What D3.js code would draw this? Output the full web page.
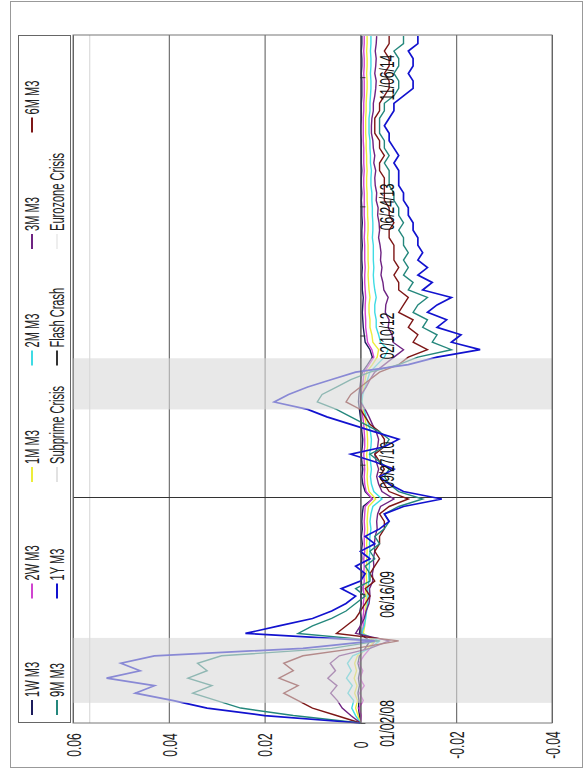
<!DOCTYPE html>
<html>
<head>
<meta charset="utf-8">
<script src="https://cdn.jsdelivr.net/npm/d3@7"></script>
<style>
body { margin: 0; background: #fff; }
svg { display: block; }
</style>
</head>
<body>
<svg id="chart" width="584" height="772"></svg>
<script>
// one observation every 20 trading days, starting 01/02/08
const step = 20
const lastIdx = 1843
const dateLabels = ["01/02/08", "06/16/09", "09/27/10", "02/10/12", "06/24/13", "11/06/14"]
const dateTickIdx = [0, 346, 692, 1038, 1384, 1730]
const valueTicks = [0.06, 0.04, 0.02, 0, -0.02, -0.04]
const valueLabels = ["0.06", "0.04", "0.02", "0", "-0.02", "-0.04"]
const subprime = [54, 228]
const eurozone = [840, 977]
const flashCrash = 604
const crisisLevel = 0.0565

const w1 = [0, 0.0002, 0.0004, 0.0003, 0.0005, 0.0002, 0.0004, 0.0001, 0.0005, 0.0002,
    -0.001, -0.002, 0.0002, 0, -0.0002, 0.0001, -0.0002, -0.0001, -0.0003, -0.0002,
    -0.0003, -0.0001, -0.0003, -0.0002, -0.0004, -0.0002, -0.0004, -0.0003, -0.0004, -0.0006,
    -0.0025, -0.001, -0.0005, -0.0003, -0.0005, -0.0003, -0.0002, -0.0004, -0.0005, -0.0003,
    -0.0002, 0, 0.0002, 0.0004, 0.0003, 0.0001, -0.0001, -0.0004, -0.0015, -0.0025,
    -0.002, -0.001, -0.0008, -0.0006, -0.0005, -0.0004, -0.0005, -0.0006, -0.0004, -0.0004,
    -0.0003, -0.0004, -0.0003, -0.0003, -0.0004, -0.0003, -0.0003, -0.0004, -0.0003, -0.0003,
    -0.0002, -0.0003, -0.0002, -0.0002, -0.0003, -0.0002, -0.0002, -0.0002, -0.0002, -0.0001,
    -0.0001, -0.0002, -0.0002, -0.0002, -0.0003, -0.0003, -0.0003, -0.0002, -0.0003, -0.0003,
    -0.0002, -0.0003, -0.0003]
const w2 = [0, -0.0002, 0.0003, -0.0006, 0.0002, -0.0008, 0.0001, -0.0005, 0.0003, -0.0007,
    -0.002, -0.003, -0.0004, -0.0006, -0.0005, -0.0007, -0.0006, -0.0008, -0.0006, -0.0008,
    -0.0007, -0.0008, -0.0007, -0.0009, -0.0008, -0.0008, -0.0009, -0.0008, -0.0009, -0.001,
    -0.0025, -0.0012, -0.0009, -0.0008, -0.0009, -0.0008, -0.0007, -0.0009, -0.0009, -0.0008,
    -0.0007, -0.0005, -0.0003, 0, -0.0002, -0.0004, -0.0006, -0.0008, -0.0018, -0.0028,
    -0.0024, -0.0015, -0.0013, -0.0011, -0.0011, -0.001, -0.001, -0.0011, -0.001, -0.0009,
    -0.0009, -0.001, -0.0009, -0.0009, -0.0009, -0.0008, -0.0009, -0.0009, -0.0008, -0.0008,
    -0.0008, -0.0008, -0.0007, -0.0007, -0.0008, -0.0007, -0.0007, -0.0007, -0.0006, -0.0006,
    -0.0006, -0.0006, -0.0007, -0.0007, -0.0008, -0.0008, -0.0008, -0.0007, -0.0008, -0.0008,
    -0.0007, -0.0008, -0.0008]
const m1 = [0, 0.0005, 0.001, 0.0006, 0.0012, 0.0007, 0.0013, 0.0008, 0.0012, 0.0006,
    -0.0015, -0.003, -0.0006, -0.0009, -0.001, -0.0011, -0.0012, -0.0012, -0.0011, -0.0013,
    -0.0012, -0.0013, -0.0013, -0.0014, -0.0013, -0.0014, -0.0015, -0.0014, -0.0015, -0.0017,
    -0.0032, -0.0018, -0.0015, -0.0014, -0.0015, -0.0014, -0.0013, -0.0015, -0.0015, -0.0014,
    -0.0012, -0.0009, -0.0006, -0.0003, -0.0004, -0.0007, -0.001, -0.0013, -0.0025, -0.0035,
    -0.0038, -0.0026, -0.0024, -0.002, -0.002, -0.0018, -0.0018, -0.002, -0.0018, -0.0017,
    -0.0016, -0.0017, -0.0016, -0.0016, -0.0016, -0.0015, -0.0016, -0.0016, -0.0015, -0.0015,
    -0.0014, -0.0014, -0.0013, -0.0013, -0.0014, -0.0013, -0.0013, -0.0012, -0.0012, -0.0011,
    -0.0011, -0.0011, -0.0012, -0.0012, -0.0013, -0.0014, -0.0014, -0.0013, -0.0014, -0.0014,
    -0.0013, -0.0014, -0.0014]
const m2 = [0, 0.001, 0.0018, 0.0014, 0.0026, 0.0017, 0.0029, 0.0019, 0.0027, 0.0016,
    -0.002, -0.004, -0.0002, -0.0008, -0.0011, -0.0013, -0.0015, -0.0016, -0.0015, -0.0018,
    -0.0017, -0.0019, -0.0018, -0.002, -0.0019, -0.002, -0.0022, -0.002, -0.0022, -0.0026,
    -0.0045, -0.0028, -0.0023, -0.0021, -0.0023, -0.0021, -0.0019, -0.0022, -0.0023, -0.0021,
    -0.0017, -0.0012, -0.0008, -0.0003, -0.0005, -0.001, -0.0015, -0.002, -0.0035, -0.005,
    -0.0058, -0.0042, -0.0038, -0.0033, -0.0033, -0.003, -0.003, -0.0033, -0.003, -0.0028,
    -0.0027, -0.0028, -0.0027, -0.0027, -0.0027, -0.0025, -0.0026, -0.0026, -0.0025, -0.0025,
    -0.0024, -0.0024, -0.0022, -0.0022, -0.0023, -0.0021, -0.0021, -0.002, -0.002, -0.0018,
    -0.0018, -0.0018, -0.002, -0.002, -0.0021, -0.0022, -0.0022, -0.0021, -0.0022, -0.0022,
    -0.0021, -0.0022, -0.0022]
const m3 = [0, 0.002, 0.0038, 0.0048, 0.0062, 0.0049, 0.0068, 0.0052, 0.0063, 0.0044,
    -0.002, -0.006, 0.001, 0, -0.0008, -0.0012, -0.0018, -0.002, -0.0019, -0.0026,
    -0.0025, -0.0028, -0.0027, -0.003, -0.0029, -0.0031, -0.0035, -0.0034, -0.0036, -0.0042,
    -0.007, -0.0045, -0.0038, -0.0034, -0.0038, -0.0033, -0.003, -0.0036, -0.0038, -0.0033,
    -0.0025, -0.0018, -0.001, 0, -0.0002, -0.0012, -0.002, -0.003, -0.005, -0.007,
    -0.009, -0.0068, -0.0066, -0.0058, -0.006, -0.0052, -0.0053, -0.0058, -0.0049, -0.0047,
    -0.0043, -0.0045, -0.0042, -0.0043, -0.0041, -0.0038, -0.004, -0.0039, -0.0036, -0.0037,
    -0.0033, -0.0034, -0.0031, -0.003, -0.0032, -0.0028, -0.003, -0.0027, -0.0026, -0.0023,
    -0.0023, -0.0024, -0.0027, -0.0027, -0.003, -0.0032, -0.0033, -0.003, -0.0032, -0.0033,
    -0.0031, -0.0033, -0.0034]
const m6 = [0, 0.005, 0.010, 0.013, 0.016, 0.013, 0.017, 0.014, 0.016, 0.012,
    0.001, -0.008, 0.005, 0.003, 0.001, 0.000, -0.001, -0.002, -0.001, -0.003,
    -0.002, -0.003, -0.004, -0.003, -0.004, -0.004, -0.005, -0.005, -0.004, -0.006,
    -0.010, -0.006, -0.005, -0.004, -0.005, -0.004, -0.003, -0.005, -0.005, -0.004,
    -0.002, -0.001, 0.000, 0.003, 0.002, 0.000, -0.002, -0.004, -0.008, -0.010,
    -0.014, -0.011, -0.012, -0.010, -0.011, -0.008, -0.009, -0.010, -0.008, -0.008,
    -0.007, -0.008, -0.007, -0.007, -0.007, -0.006, -0.006, -0.007, -0.006, -0.006,
    -0.005, -0.005, -0.005, -0.005, -0.004, -0.004, -0.005, -0.004, -0.004, -0.003,
    -0.003, -0.003, -0.004, -0.004, -0.005, -0.006, -0.006, -0.005, -0.006, -0.006,
    -0.005, -0.006, -0.006]
const m9 = [0, 0.014, 0.025, 0.030, 0.035, 0.031, 0.036, 0.032, 0.034, 0.029,
    0.006, -0.004, 0.013, 0.010, 0.006, 0.003, 0.001, -0.001, 0.001, -0.002,
    -0.002, -0.001, -0.003, -0.002, -0.004, -0.003, -0.005, -0.006, -0.005, -0.008,
    -0.013, -0.008, -0.006, -0.005, -0.006, -0.004, -0.002, -0.005, -0.006, -0.004,
    -0.001, 0.002, 0.005, 0.009, 0.008, 0.005, 0.002, -0.002, -0.008, -0.012,
    -0.019, -0.015, -0.016, -0.013, -0.014, -0.011, -0.012, -0.014, -0.010, -0.011,
    -0.009, -0.010, -0.009, -0.010, -0.009, -0.009, -0.008, -0.009, -0.008, -0.008,
    -0.007, -0.007, -0.006, -0.006, -0.006, -0.005, -0.006, -0.005, -0.005, -0.004,
    -0.004, -0.004, -0.005, -0.005, -0.007, -0.008, -0.008, -0.007, -0.008, -0.008,
    -0.007, -0.009, -0.009]
const y1 = [0, 0.020, 0.032, 0.039, 0.047, 0.043, 0.053, 0.046, 0.050, 0.043,
    0.012, -0.003, 0.024, 0.017, 0.010, 0.006, 0.003, 0.001, 0.004, 0.000,
    -0.001, 0.001, -0.002, 0.000, -0.003, -0.001, -0.004, -0.006, -0.005, -0.009,
    -0.017, -0.009, -0.006, -0.004, -0.007, -0.003, 0.002, -0.005, -0.008, -0.003,
    0.002, 0.007, 0.011, 0.018, 0.015, 0.011, 0.006, 0.001, -0.010, -0.016,
    -0.025, -0.019, -0.021, -0.016, -0.018, -0.014, -0.016, -0.019, -0.013, -0.015,
    -0.012, -0.014, -0.012, -0.013, -0.012, -0.012, -0.011, -0.011, -0.010, -0.010,
    -0.009, -0.009, -0.008, -0.008, -0.008, -0.007, -0.008, -0.007, -0.006, -0.006,
    -0.005, -0.006, -0.007, -0.007, -0.009, -0.011, -0.011, -0.010, -0.011, -0.011,
    -0.010, -0.012, -0.012]

const seriesNames = ["1W M3", "2W M3", "1M M3", "2M M3", "3M M3", "6M M3", "9M M3", "1Y M3"]
const seriesValues = [w1, w2, m1, m2, m3, m6, m9, y1]
const seriesColors = ["#1c1c5c", "#d044d0", "#eded3a", "#3fdbe4", "#6e2382", "#7d1616", "#24877c", "#1212cf"]
const eventNames = ["Subprime Crisis", "Flash Crash", "Eurozone Crisis"]
const eventColors = ["#e2e2e2", "#333333", "#eeeeee"]

const font = "'Liberation Sans', Arial, sans-serif"
const svg = d3.select("#chart")

// outer frame
svg.append("rect")
    .attr("x", 10.5).attr("y", 1.5)
    .attr("width", 572).attr("height", 766)
    .attr("fill", "#fff").attr("stroke", "#999")

const x = d3.scaleLinear().domain([-0.04, 0.06]).range([552, 73])
const y = d3.scaleLinear().domain([0, lastIdx]).range([723, 35])

// value gridlines + labels
const gVal = svg.append("g")
    .attr("transform", "translate(0,723)")
    .call(d3.axisBottom(x).tickValues(valueTicks).tickSize(-688).tickSizeOuter(0)
        .tickFormat((d, i) => valueLabels[i]))
    .attr("font-family", font)
    .attr("font-size", 20)
gVal.select(".domain").remove()
gVal.selectAll(".tick line").attr("stroke", "#555")
gVal.selectAll(".tick text")
    .attr("y", null).attr("dy", null)
    .attr("fill", "#222")
    .attr("text-anchor", "middle")
    .attr("dominant-baseline", "central")
    .attr("transform", "translate(0,22) rotate(-90) scale(0.6,1)")

// light reference line
svg.append("line")
    .attr("x1", x(crisisLevel)).attr("x2", x(crisisLevel))
    .attr("y1", y(0)).attr("y2", y(lastIdx))
    .attr("stroke", "#d4d4d4")

// flash crash marker
svg.append("line")
    .attr("x1", x(0.06)).attr("x2", x(-0.04))
    .attr("y1", y(flashCrash)).attr("y2", y(flashCrash))
    .attr("stroke", "#333").attr("stroke-width", 1.2)

// series
const line = d3.line()
    .x(d => x(d))
    .y((d, i) => y(i * step))

svg.append("g").selectAll("path")
    .data(seriesValues)
    .join("path")
    .attr("d", d => line(d))
    .attr("fill", "none")
    .attr("stroke", (d, i) => seriesColors[i])
    .attr("stroke-width", (d, i) => i === 7 ? 1.7 : 1.4)

// crisis shading on top, so lines look faded
svg.append("g").selectAll("rect")
    .data([subprime, eurozone])
    .join("rect")
    .attr("x", x(0.06))
    .attr("width", x(-0.04) - x(0.06))
    .attr("y", d => y(d[1]))
    .attr("height", d => y(d[0]) - y(d[1]))
    .attr("fill", "#d9d9d9")
    .attr("opacity", 0.6)

// time axis on the zero line
const gTime = svg.append("g")
    .attr("transform", `translate(${x(0)},0)`)
    .call(d3.axisRight(y).tickValues(dateTickIdx).tickSize(5).tickSizeOuter(0)
        .tickFormat((d, i) => dateLabels[i]))
    .attr("font-family", font)
    .attr("font-size", 20)
gTime.select(".domain").attr("stroke", "#555")
gTime.selectAll(".tick line").attr("stroke", "#333")
gTime.selectAll(".tick text")
    .attr("x", null).attr("dy", null)
    .attr("fill", "#111")
    .attr("text-anchor", "middle")
    .attr("dominant-baseline", "central")
    .attr("transform", "translate(26,0) rotate(-90) scale(0.6,1)")

// plot border
svg.append("rect")
    .attr("x", 73).attr("y", 35)
    .attr("width", 479).attr("height", 688)
    .attr("fill", "none").attr("stroke", "#777")

// legend
svg.append("rect")
    .attr("x", 18.5).attr("y", 35.5)
    .attr("width", 52).attr("height", 687)
    .attr("fill", "#fff").attr("stroke", "#666")

const legendItems = seriesNames.map((n, i) => ({ name: n, color: seriesColors[i] }))
    .concat(eventNames.map((n, i) => ({ name: n, color: eventColors[i] })))

const lg = svg.append("g").selectAll("g")
    .data(legendItems)
    .join("g")
    .attr("transform", (d, i) => `translate(${i < 6 ? 32 : 57},${715 - (i % 6) * 116.5})`)
lg.append("line")
    .attr("x1", 0).attr("x2", 0)
    .attr("y1", 0).attr("y2", -15)
    .attr("stroke", d => d.color).attr("stroke-width", 2)
lg.append("text")
    .attr("transform", "translate(0,-18) rotate(-90) scale(0.54,1)")
    .attr("dominant-baseline", "central")
    .attr("font-family", font)
    .attr("font-size", 20.5)
    .attr("fill", "#222")
    .text(d => d.name)
</script>
</body>
</html>
